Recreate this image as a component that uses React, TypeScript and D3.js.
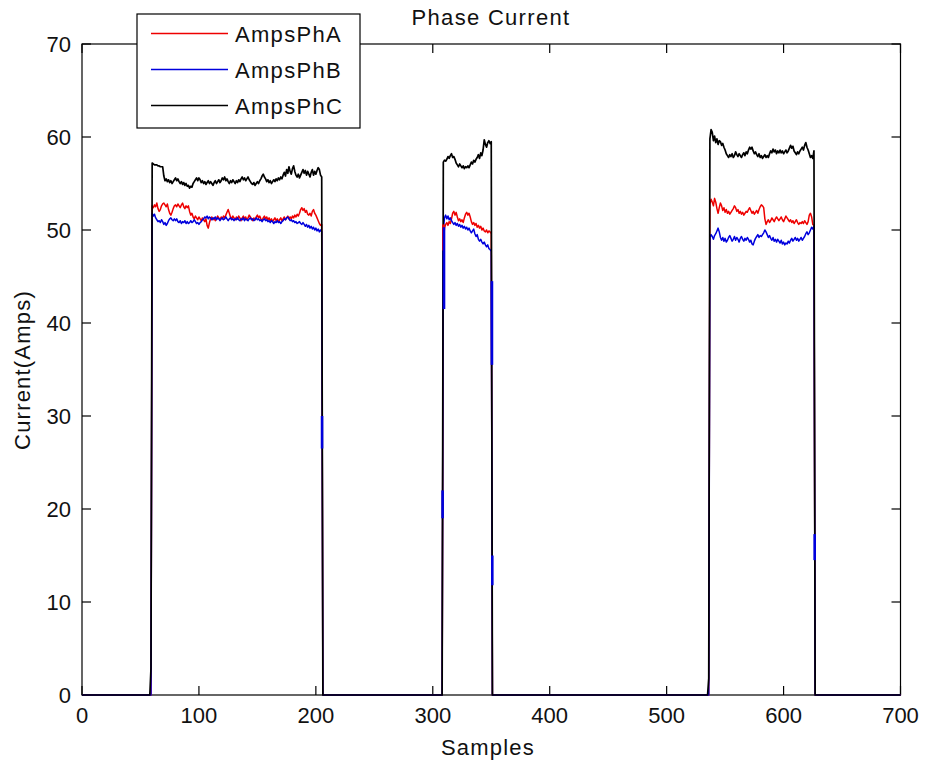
import React from "react";
import * as d3 from "d3";

// ---------- data ----------
const xTicks = [0, 100, 200, 300, 400, 500, 600, 700];
const yTicks = [0, 10, 20, 30, 40, 50, 60, 70];
const seriesNames = ["AmpsPhA", "AmpsPhB", "AmpsPhC"];
const seriesColors = ["#ee0000", "#0000dd", "#000000"];

const blockStarts = [60, 309, 537];

// AmpsPhA (red)
const ampsPhA_b1 = [
  52.6, 52.4, 52.7, 52.5, 52.9, 52.3, 52.0, 52.2, 52.6, 52.8,
  52.9, 52.7, 52.5, 52.8, 52.2, 51.8, 51.6, 51.9, 52.3, 52.6,
  52.7, 52.5, 52.8, 52.6, 52.4, 52.7, 52.9, 52.5, 52.3, 52.6,
  52.4, 52.6, 52.0, 51.6, 51.8, 51.4, 51.2, 51.5, 51.3, 51.1,
  51.4, 51.2, 51.0, 51.3, 51.1, 50.9, 51.2, 50.5, 50.2, 50.8,
  51.2, 51.4, 51.1, 51.3, 51.0, 51.2, 51.5, 51.3, 51.1, 51.4,
  51.2, 51.5, 51.3, 51.6, 51.9, 52.2, 51.8, 51.4, 51.2, 51.5,
  51.3, 51.1, 51.4, 51.2, 51.5, 51.3, 51.0, 51.3, 51.5, 51.2,
  51.4, 51.1, 51.3, 51.6, 51.4, 51.2, 51.0, 51.3, 51.1, 51.4,
  51.6, 51.3, 51.5, 51.2, 51.0, 51.3, 51.5, 51.2, 51.4, 51.1,
  51.3, 51.0, 51.2, 50.9, 51.1, 51.3, 51.0, 51.2, 50.9, 51.1,
  51.3, 51.0, 51.2, 51.4, 51.1, 51.3, 51.5, 51.2, 51.4, 51.2,
  51.5, 51.3, 51.6, 51.4, 51.7, 51.5, 51.8, 52.2, 52.4, 52.1,
  52.3, 51.9, 52.1, 51.7, 51.6, 51.8, 51.5, 52.0, 52.2, 51.8,
  51.6, 51.3, 51.0, 50.7, 50.5, 50.6,
];
const ampsPhA_b2 = [
  48.6, 50.2, 50.6, 50.8, 50.5, 50.9, 50.7, 51.2, 51.8, 52.0,
  51.6, 51.9, 51.4, 51.0, 51.2, 50.9, 51.1, 50.8, 51.3, 51.7,
  51.9, 51.6, 51.8, 51.4, 50.9, 50.6, 50.8, 50.5, 50.7, 50.3,
  50.5, 50.2, 50.4, 50.0, 50.2, 49.9, 49.8, 50.0, 49.7, 49.9, 49.8, 49.6,
];
const ampsPhA_b3 = [
  52.8, 53.3, 53.0, 52.6, 53.4, 53.0, 52.3, 51.8, 52.4, 52.9,
  52.6, 52.1, 52.4, 51.9, 52.2, 51.8, 52.0, 51.7, 51.9, 52.1,
  52.3, 52.6, 52.4, 52.0, 52.2, 51.8, 52.0, 51.7, 51.9, 51.6,
  51.8, 52.0, 51.9, 52.2, 52.4, 52.1, 51.8, 52.0, 51.7, 51.9,
  52.1, 51.8, 52.2, 52.5, 52.7, 52.6, 52.4, 51.2, 50.6, 50.9,
  51.1, 50.8, 51.0, 51.3, 51.1, 50.9, 51.2, 51.4, 51.2, 51.0,
  51.2, 51.4, 51.1, 50.9, 51.2, 51.5, 51.3, 51.1, 50.9, 51.1,
  50.8, 51.0, 50.7, 50.9, 51.1, 50.8, 50.6, 50.8, 50.7, 50.9,
  50.7, 51.0, 50.8, 50.6, 50.9, 51.6, 51.8, 51.4, 50.6, 50.5,
];

// AmpsPhB (blue)
const ampsPhB_b1 = [
  51.8, 51.5, 51.7, 51.3, 51.1, 50.9, 51.0, 50.8, 51.1, 50.9,
  50.6, 50.8, 50.5, 50.7, 51.0, 51.2, 51.3, 51.1, 51.0, 51.2,
  51.0, 51.2, 50.9, 50.8, 51.0, 50.7, 50.9, 50.8, 51.0, 50.7,
  50.9, 50.7, 50.8, 51.0, 50.8, 50.9, 51.1, 50.9, 50.7, 50.8,
  50.6, 50.8, 50.9, 51.1, 51.2, 51.4, 51.3, 51.5, 51.2, 51.4,
  51.3, 51.1, 51.3, 51.2, 51.4, 51.1, 51.3, 51.2, 51.0, 51.2,
  51.3, 51.1, 51.2, 51.4, 51.2, 51.0, 51.2, 51.3, 51.1, 51.2,
  51.0, 51.2, 51.1, 51.3, 51.1, 51.0, 51.2, 51.1, 51.3, 51.0,
  51.2, 51.1, 51.0, 51.2, 51.3, 51.1, 51.2, 51.0, 51.1, 51.3,
  51.1, 51.2, 51.0, 51.1, 50.9, 51.1, 51.2, 51.0, 51.1, 50.9,
  51.0, 50.8, 51.0, 50.9, 50.7, 50.9, 50.8, 51.0, 50.8, 50.9,
  50.7, 50.9, 51.0, 51.2, 51.1, 51.3, 51.4, 51.2, 51.0, 51.1,
  50.9, 51.0, 50.8, 50.9, 50.7, 50.8, 50.9, 50.7, 50.6, 50.8,
  50.6, 50.4, 50.6, 50.3, 50.5, 50.2, 50.4, 50.1, 50.3, 50.0,
  50.2, 49.9, 50.1, 49.8, 50.0, 49.8,
];
const ampsPhB_b2 = [
  50.0, 51.3, 51.6, 51.2, 51.5, 51.1, 51.3, 51.0, 50.8, 50.6,
  50.8, 50.5, 50.7, 50.4, 50.6, 50.3, 50.5, 50.2, 50.4, 50.1,
  50.3, 50.0, 50.2, 49.9, 49.7, 49.9, 50.1, 49.6, 49.3, 49.5,
  49.0, 48.8, 49.0, 48.7, 48.5, 48.7, 48.4, 48.2, 48.4, 48.0, 47.9, 47.7,
];
const ampsPhB_b3 = [
  49.2, 49.5, 49.3, 49.0, 49.4, 49.6, 49.9, 50.2, 49.8, 49.2,
  48.9, 49.2, 48.8, 49.1, 48.7, 48.9, 49.2, 49.4, 49.1, 48.8,
  49.0, 49.3, 48.9, 49.2, 49.0, 48.7, 49.1, 49.3, 49.0, 48.8,
  49.1, 48.9, 49.2, 49.0, 48.7, 48.9, 48.5, 48.4, 48.8, 49.1,
  49.3, 49.5, 49.2, 49.4, 49.3, 49.5, 49.7, 50.0, 49.8, 49.5,
  49.2, 49.4, 49.1, 48.9, 49.2, 48.8, 49.0, 48.7, 49.0, 48.8,
  48.6, 48.9, 48.5, 48.7, 48.4, 48.6, 48.5, 48.8, 48.6, 48.9,
  49.1, 48.8, 49.0, 49.2, 48.9, 49.1, 48.8, 49.0, 49.2, 48.9,
  49.1, 49.3, 49.6, 49.8, 49.5, 49.7, 50.0, 50.3, 50.1, 50.4,
];

// AmpsPhC (black)
const ampsPhC_b1 = [
  57.2, 57.1, 57.0, 57.0, 57.0, 56.9, 56.9, 56.8, 56.8, 56.8,
  55.8, 55.3, 55.5, 55.2, 55.4, 55.1, 55.3, 55.0, 55.2, 55.4,
  55.6, 55.3, 55.5, 55.2, 55.0, 55.2, 54.9, 55.1, 54.8, 55.0,
  54.7, 54.8, 54.5, 54.7, 54.6, 55.0, 55.2, 55.4, 55.6, 55.3,
  55.6, 55.4, 55.1, 55.3, 55.0, 55.2, 54.9, 55.1, 55.3, 55.0,
  55.2, 55.0, 54.8, 55.1, 55.3, 55.0, 55.2, 55.4, 55.1, 55.3,
  55.6, 55.4, 55.7, 55.3, 55.5, 55.2, 55.0, 55.3, 55.1, 55.4,
  55.2, 55.0, 55.3, 55.1, 55.4, 55.2, 55.5, 55.7, 55.4, 55.6,
  55.3, 55.5, 55.7, 55.4, 55.2, 55.0, 54.9, 55.1, 54.8, 55.0,
  55.2, 55.0, 55.3, 55.5, 55.8, 56.0, 55.7, 55.5, 55.2, 55.4,
  55.1, 55.3, 55.0, 55.2, 55.4, 55.2, 55.5, 55.3, 55.6, 55.4,
  55.7, 55.5, 55.9, 56.2, 55.8, 56.5, 56.1, 56.8, 56.3, 56.0,
  56.6, 56.9, 56.3, 55.9, 55.7, 56.0, 55.6, 55.9, 56.2, 56.5,
  56.1, 56.4, 55.9, 56.3, 56.0, 55.7, 56.2, 56.5, 55.9, 56.3,
  56.0, 56.4, 56.7, 56.5, 55.9, 55.7,
];
const ampsPhC_b2 = [
  57.3, 57.5, 57.4, 57.6, 57.9, 57.7, 58.0, 58.2, 57.8, 57.9,
  57.6, 57.2, 57.0, 56.8, 57.1, 56.9, 56.7, 56.9, 56.6, 56.8,
  56.7, 56.9, 56.7, 57.0, 57.3, 57.1, 57.5, 57.3, 57.6, 57.8,
  58.1, 57.7, 58.3, 58.0, 58.6, 59.7, 59.2, 58.9, 59.4, 59.6, 59.3, 59.5,
];
const ampsPhC_b3 = [
  59.8, 60.8, 60.5, 59.6, 60.1, 59.4, 59.8, 59.2, 59.6, 59.5,
  59.1, 59.3, 58.9, 58.6, 58.2, 58.0, 57.8, 58.1, 57.9, 58.2,
  57.8, 58.0, 58.4, 58.1, 57.9, 58.2, 58.0, 57.8, 58.1, 58.3,
  58.0, 58.4, 58.2, 58.6, 58.9, 58.7, 58.9, 58.5, 58.2, 58.4,
  58.1, 57.9, 58.2, 57.8, 58.0, 57.7, 57.9, 58.1, 57.8, 58.0,
  57.8, 58.2, 58.5, 58.3, 58.7, 58.4, 58.6, 58.2, 58.5, 58.3,
  58.6, 58.3, 58.5, 58.2, 58.4, 58.6, 58.3, 58.5, 58.8, 59.1,
  58.8, 59.0, 58.5, 58.3, 58.1, 58.4, 58.2, 58.5, 58.7, 58.9,
  58.6, 59.1, 59.4, 58.9, 58.6, 58.2, 57.8, 58.0, 57.7, 58.5,
];
// single low samples where AmpsPhC starts rising: [sample, value]
const ampsPhC_lead: [number, number][] = [[59, 2.9], [536, 1.8]];

// visible switching traces of the other phases: [sample, low, high]
const ampsPhB_switch: [number, number, number][] = [
  [205.3, 26.5, 30.0],
  [308.4, 19.0, 22.0],
  [309.6, 41.5, 50.3],
  [350.6, 35.5, 44.5],
  [350.9, 11.8, 15.0],
  [626.6, 14.5, 17.3],
];
const ampsPhA_switch: [number, number, number][] = [[309.1, 47.8, 50.6]];

const SAMPLE_COUNT = 701;

function buildSeries(blocks: number[][], lead: [number, number][] = []) {
  const v = new Array(SAMPLE_COUNT).fill(0);
  blocks.forEach((b, i) => b.forEach((val, j) => (v[blockStarts[i] + j] = val)));
  lead.forEach(([s, val]) => (v[s] = val));
  return v.map((val, s) => [s, val] as [number, number]);
}

export default function App() {
  const W = 930, H = 766;
  const x = d3.scaleLinear().domain([0, 700]).range([82, 900.5]);
  const y = d3.scaleLinear().domain([0, 70]).range([695, 44]);
  const line = d3.line<[number, number]>().x((d) => x(d[0])).y((d) => y(d[1]));

  const series = [
    buildSeries([ampsPhA_b1, ampsPhA_b2, ampsPhA_b3]),
    buildSeries([ampsPhB_b1, ampsPhB_b2, ampsPhB_b3]),
    buildSeries([ampsPhC_b1, ampsPhC_b2, ampsPhC_b3], ampsPhC_lead),
  ];
  const widths = [1.5, 1.5, 1.7];

  const font = "'Liberation Sans', Arial, Helvetica, sans-serif";
  const [x0, x1] = x.range();
  const [y0, y1] = y.range();
  const tickLen = 9;

  const legend = { x: 137, y: 14, w: 223, h: 114 };
  const legendRows = [33.5, 69.5, 105.5];

  return (
    <svg
      width={W}
      height={H}
      style={{ position: "absolute", left: 0, top: 0, background: "#fff" }}
      fontFamily={font}
    >
      <rect x={0} y={0} width={W} height={H} fill="#fff" />
      {/* frame */}
      <rect x={x0} y={y1} width={x1 - x0} height={y0 - y1} fill="none" stroke="#000" strokeWidth={1.2} />
      {/* ticks */}
      {xTicks.map((t) => (
        <g key={"xt" + t}>
          <line x1={x(t)} x2={x(t)} y1={y0} y2={y0 - tickLen} stroke="#000" strokeWidth={1.2} />
          <line x1={x(t)} x2={x(t)} y1={y1} y2={y1 + tickLen} stroke="#000" strokeWidth={1.2} />
          <text x={x(t)} y={723} fontSize={22} textAnchor="middle" fill="#111">
            {t}
          </text>
        </g>
      ))}
      {yTicks.map((t) => (
        <g key={"yt" + t}>
          <line x1={x0} x2={x0 + tickLen} y1={y(t)} y2={y(t)} stroke="#000" strokeWidth={1.2} />
          <line x1={x1} x2={x1 - tickLen} y1={y(t)} y2={y(t)} stroke="#000" strokeWidth={1.2} />
          <text x={71} y={y(t) + 7.8} fontSize={22} textAnchor="end" fill="#111">
            {t}
          </text>
        </g>
      ))}
      {/* lines */}
      {series.map((d, i) => (
        <path key={"s" + i} d={line(d) || ""} fill="none" stroke={seriesColors[i]} strokeWidth={widths[i]} strokeLinejoin="round" />
      ))}
      {ampsPhA_switch.map(([s, lo, hi], i) => (
        <line key={"as" + i} x1={x(s)} x2={x(s)} y1={y(lo)} y2={y(hi)} stroke={seriesColors[0]} strokeWidth={2.6} />
      ))}
      {ampsPhB_switch.map(([s, lo, hi], i) => (
        <line key={"bs" + i} x1={x(s)} x2={x(s)} y1={y(lo)} y2={y(hi)} stroke={seriesColors[1]} strokeWidth={2.6} />
      ))}
      {/* titles */}
      <text x={491} y={25} fontSize={22} textAnchor="middle" letterSpacing={1.3} fill="#111">
        Phase Current
      </text>
      <text x={488} y={755} fontSize={22} textAnchor="middle" letterSpacing={1.2} fill="#111">
        Samples
      </text>
      <text
        transform={`translate(30, 370) rotate(-90)`}
        fontSize={22}
        textAnchor="middle"
        letterSpacing={1.2}
        fill="#111"
      >
        Current(Amps)
      </text>
      {/* legend */}
      <rect x={legend.x} y={legend.y} width={legend.w} height={legend.h} fill="#fff" stroke="#000" strokeWidth={1.2} />
      {seriesNames.map((n, i) => (
        <g key={"lg" + i}>
          <line x1={151} x2={228} y1={legendRows[i]} y2={legendRows[i]} stroke={seriesColors[i]} strokeWidth={1.5} />
          <text x={235} y={legendRows[i] + 8} fontSize={22} letterSpacing={1.3} fill="#111">
            {n}
          </text>
        </g>
      ))}
    </svg>
  );
}
